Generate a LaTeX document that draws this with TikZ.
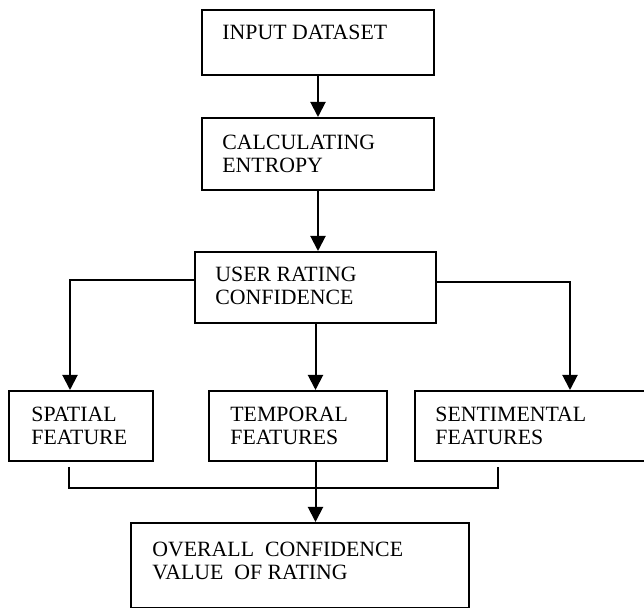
\documentclass[tikz,border=0pt]{standalone}
\usepackage{fontspec}
\setmainfont{Liberation Serif}
\usetikzlibrary{arrows.meta}
\tikzset{
    stage/.style={draw, line width=1pt, anchor=north west, inner sep=0pt},
    stagetext/.style={anchor=north west, inner sep=0pt, align=left,
        font=\fontsize{10.9}{11.5}\selectfont},
    flow/.style={line width=1pt, -{Triangle[length=7.5pt, width=7.5pt]}}
}

\begin{document}
\begin{tikzpicture}[x=0.5pt, y=-0.5pt]
\clip (0,0) rectangle (644,608);

% boxes
\node[stage, minimum width=116pt, minimum height=32.5pt] (input) at (201,9) {};
\node[stage, minimum width=116pt, minimum height=36pt] (calc) at (201,117) {};
\node[stage, minimum width=120.5pt, minimum height=35.5pt] (user) at (194,251) {};
\node[stage, minimum width=72pt, minimum height=35pt] (spatial) at (8,390) {};
\node[stage, minimum width=89pt, minimum height=35pt] (temporal) at (208,390) {};
\node[stage, minimum width=116pt, minimum height=35pt] (senti) at (414,390) {};
\node[stage, minimum width=169pt, minimum height=42.5pt] (overall) at (130,522) {};

% texts
\node[stagetext] (inputtext) at ([shift={(21,16)}]input.north west) {INPUT DATASET};
\node[stagetext] (calctext) at ([shift={(21,18)}]calc.north west) {CALCULATING\\ENTROPY};
\node[stagetext] (usertext) at ([shift={(21,16)}]user.north west) {USER RATING\\CONFIDENCE};
\node[stagetext] (spatialtext) at ([shift={(23,17)}]spatial.north west) {SPATIAL\\FEATURE};
\node[stagetext] (temporaltext) at ([shift={(22,17)}]temporal.north west) {TEMPORAL\\FEATURES};
\node[stagetext] (sentitext) at ([shift={(21,17)}]senti.north west) {SENTIMENTAL\\FEATURES};
\node[stagetext] (overalltext) at ([shift={(22,20)}]overall.north west) {OVERALL\ \ CONFIDENCE\\VALUE\ \ OF RATING};

% connectors
\draw[flow] (input) -- (calc);
\draw[flow] (calc.south) -- (calc.south |- user.north);
\draw[flow] ([yshift=3.75pt]user.west) -| ([xshift=-5.5pt]spatial.north);
\draw[flow] (user.south) -- (user.south |- temporal.north);
\draw[flow] ([yshift=2.75pt]user.east) -| ([xshift=19.5pt]senti.north);

\coordinate (joinL) at (69,467);
\coordinate (joinR) at (498,467);
\draw[line width=1pt] (joinL) -- ++(0,21) -| (joinR);
\draw[flow] (temporal.south -| user.south) -- (overall.north -| user.south);
\end{tikzpicture}
\end{document}
